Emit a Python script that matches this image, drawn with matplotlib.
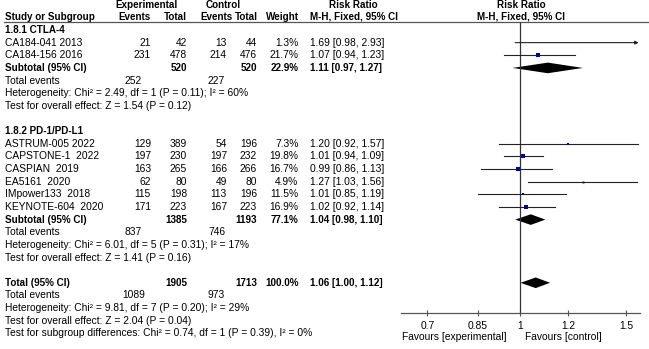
import numpy as np
import matplotlib.pyplot as plt
from matplotlib.patches import Polygon

plt.rcParams['font.family'] = ['Liberation Sans', 'DejaVu Sans']

# ---- data ----
sg1_title = "1.8.1 CTLA-4"
sg1_studies = ["CA184-041 2013", "CA184-156 2016"]
sg1_exp_events = [21, 231]
sg1_exp_total = [42, 478]
sg1_ctl_events = [13, 214]
sg1_ctl_total = [44, 476]
sg1_weight = [1.3, 21.7]
sg1_rr = [1.69, 1.07]
sg1_lo = [0.98, 0.94]
sg1_hi = [2.93, 1.23]
sg1_sub = (1.11, 0.97, 1.27)
sg1_sub_totals = (520, 520, "22.9%")
sg1_events = (252, 227)
sg1_het = "Heterogeneity: Chi² = 2.49, df = 1 (P = 0.11); I² = 60%"
sg1_test = "Test for overall effect: Z = 1.54 (P = 0.12)"

sg2_title = "1.8.2 PD-1/PD-L1"
sg2_studies = ["ASTRUM-005 2022", "CAPSTONE-1  2022", "CASPIAN  2019",
               "EA5161  2020", "IMpower133  2018", "KEYNOTE-604  2020"]
sg2_exp_events = [129, 197, 163, 62, 115, 171]
sg2_exp_total = [389, 230, 265, 80, 198, 223]
sg2_ctl_events = [54, 197, 166, 49, 113, 167]
sg2_ctl_total = [196, 232, 266, 80, 196, 223]
sg2_weight = [7.3, 19.8, 16.7, 4.9, 11.5, 16.9]
sg2_rr = [1.20, 1.01, 0.99, 1.27, 1.01, 1.02]
sg2_lo = [0.92, 0.94, 0.86, 1.03, 0.85, 0.92]
sg2_hi = [1.57, 1.09, 1.13, 1.56, 1.19, 1.14]
sg2_sub = (1.04, 0.98, 1.10)
sg2_sub_totals = (1385, 1193, "77.1%")
sg2_events = (837, 746)
sg2_het = "Heterogeneity: Chi² = 6.01, df = 5 (P = 0.31); I² = 17%"
sg2_test = "Test for overall effect: Z = 1.41 (P = 0.16)"

total_rr = (1.06, 1.00, 1.12)
total_totals = (1905, 1713, "100.0%")
total_events = (1089, 973)
total_het = "Heterogeneity: Chi² = 9.81, df = 7 (P = 0.20); I² = 29%"
total_test = "Test for overall effect: Z = 2.04 (P = 0.04)"
subgroup_test = "Test for subgroup differences: Chi² = 0.74, df = 1 (P = 0.39), I² = 0%"

xticks = [0.7, 0.85, 1, 1.2, 1.5]
xtick_labels = ["0.7", "0.85", "1", "1.2", "1.5"]

# ---- layout (pixels) ----
W, H = 649, 349
FS = 7.4
FSB = 7.1
ROW0, DY = 30.0, 12.64
X_NAME, X_EE, X_ET, X_CE, X_CT, X_W, X_RR = 5, 151, 187, 227, 257, 298.5, 310
BLUE = '#0000a8'

def ry(i):
    return ROW0 + DY * i

fig = plt.figure(figsize=(W / 100, H / 100), dpi=100)
tx = fig.add_axes([0, 0, 1, 1])
tx.set_xlim(0, W)
tx.set_ylim(H, 0)
tx.axis('off')

def t(x, i, s, ha='left', bold=False, y=None):
    tx.text(x, ry(i) if y is None else y, s, ha=ha, va='center',
            fontsize=FSB if bold else FS,
            fontweight='bold' if bold else 'normal', color='black')

# headers
t(147, 0, "Experimental", ha='center', bold=True, y=5)
t(223, 0, "Control", ha='center', bold=True, y=5)
t(353, 0, "Risk Ratio", ha='center', bold=True, y=5)
t(521, 0, "Risk Ratio", ha='center', bold=True, y=5)
hy = 16.6
t(X_NAME, 0, "Study or Subgroup", bold=True, y=hy)
t(X_EE, 0, "Events", ha='right', bold=True, y=hy)
t(X_ET, 0, "Total", ha='right', bold=True, y=hy)
t(233, 0, "Events", ha='right', bold=True, y=hy)
t(X_CT + 1, 0, "Total", ha='right', bold=True, y=hy)
t(X_W, 0, "Weight", ha='right', bold=True, y=hy)
t(X_RR, 0, "M-H, Fixed, 95% CI", bold=True, y=hy)
t(521, 0, "M-H, Fixed, 95% CI", ha='center', bold=True, y=hy)
tx.plot([4, W], [21.5, 21.5], color='#555555', lw=0.9)

# forest axes
x0, x1 = 401, 640
ytop, ybot = 21.5, 313
fx = fig.add_axes([x0 / W, 1 - ybot / H, (x1 - x0) / W, (ybot - ytop) / H])
fx.set_xscale('log')
fx.set_xlim(0.633, 1.58)
fx.set_ylim((ybot - ROW0) / DY, (ytop - ROW0) / DY)
fx.patch.set_alpha(0)
for s in ['top', 'left', 'right']:
    fx.spines[s].set_visible(False)
fx.spines['bottom'].set_color('#555555')
fx.spines['bottom'].set_linewidth(0.9)
fx.set_yticks([])
fx.set_xticks(xticks)
fx.set_xticklabels(xtick_labels, fontsize=FS)
fx.xaxis.set_minor_locator(plt.NullLocator())
fx.tick_params(axis='x', direction='inout', length=5, width=0.8, color='#555555', pad=3)
fx.axvline(1, color='#333333', lw=0.9)

def study_row(i, name, ee, et, ce, ct, w, rr, lo, hi):
    t(X_NAME, i, name)
    t(X_EE, i, str(ee), ha='right')
    t(X_ET, i, str(et), ha='right')
    t(X_CE, i, str(ce), ha='right')
    t(X_CT, i, str(ct), ha='right')
    t(X_W, i, f"{w:.1f}%", ha='right')
    t(X_RR, i, f"{rr:.2f} [{lo:.2f}, {hi:.2f}]")
    xmax = fx.get_xlim()[1]
    if hi > xmax:
        fx.annotate('', xy=(xmax * 0.995, i), xytext=(lo, i),
                    arrowprops=dict(arrowstyle='-|>', color='#222222', lw=0.8,
                                    mutation_scale=5, shrinkA=0, shrinkB=0))
    else:
        fx.plot([lo, hi], [i, i], color='#222222', lw=0.8)
    if rr < xmax:
        fx.plot(rr, i, 's', color=BLUE, ms=0.62 * np.sqrt(w), mew=0)

def diamond(i, est, lo, hi):
    h = 0.42
    fx.add_patch(Polygon([(lo, i), (est, i - h), (hi, i), (est, i + h)],
                         closed=True, color='black', lw=0))

def subtotal_row(i, label, tots, est):
    t(X_NAME, i, label, bold=True)
    t(X_ET, i, str(tots[0]), ha='right', bold=True)
    t(X_CT, i, str(tots[1]), ha='right', bold=True)
    t(X_W, i, tots[2], ha='right', bold=True)
    t(X_RR, i, f"{est[0]:.2f} [{est[1]:.2f}, {est[2]:.2f}]", bold=True)
    diamond(i, *est)

def events_row(i, ev):
    t(X_NAME, i, "Total events")
    t(133.5, i, str(ev[0]), ha='center')
    t(216.5, i, str(ev[1]), ha='center')

# subgroup 1
t(X_NAME, 0, sg1_title, bold=True)
for k in range(len(sg1_studies)):
    study_row(1 + k, sg1_studies[k], sg1_exp_events[k], sg1_exp_total[k],
              sg1_ctl_events[k], sg1_ctl_total[k], sg1_weight[k],
              sg1_rr[k], sg1_lo[k], sg1_hi[k])
subtotal_row(3, "Subtotal (95% CI)", sg1_sub_totals, sg1_sub)
events_row(4, sg1_events)
t(X_NAME, 5, sg1_het)
t(X_NAME, 6, sg1_test)

# subgroup 2
t(X_NAME, 8, sg2_title, bold=True)
for k in range(len(sg2_studies)):
    study_row(9 + k, sg2_studies[k], sg2_exp_events[k], sg2_exp_total[k],
              sg2_ctl_events[k], sg2_ctl_total[k], sg2_weight[k],
              sg2_rr[k], sg2_lo[k], sg2_hi[k])
subtotal_row(15, "Subtotal (95% CI)", sg2_sub_totals, sg2_sub)
events_row(16, sg2_events)
t(X_NAME, 17, sg2_het)
t(X_NAME, 18, sg2_test)

# overall
subtotal_row(20, "Total (95% CI)", total_totals, total_rr)
events_row(21, total_events)
t(X_NAME, 22, total_het)
t(X_NAME, 23, total_test)
t(X_NAME, 24, subgroup_test)

t(506, 0, "Favours [experimental]", ha='right', y=337)
t(525, 0, "Favours [control]", y=337)

fig.savefig("out.png", dpi=100)
